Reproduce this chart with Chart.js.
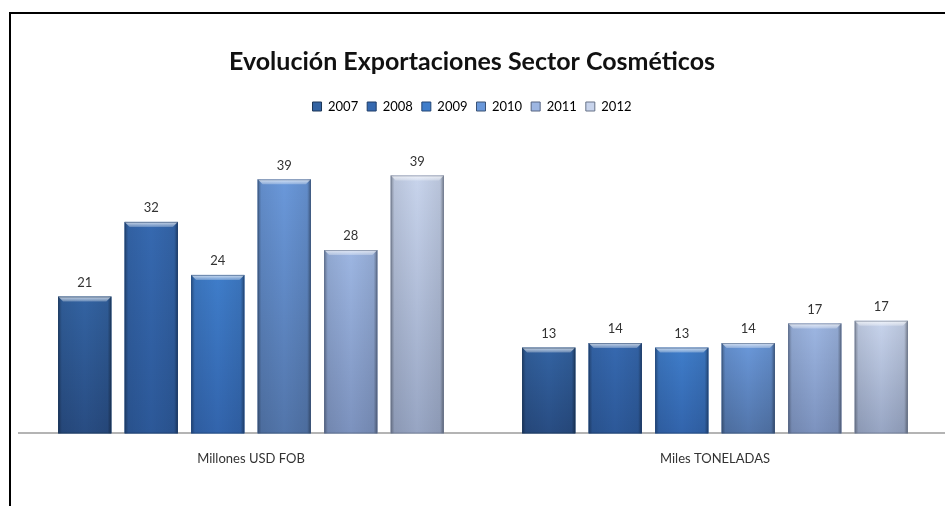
<!DOCTYPE html>
<html>
<head>
<meta charset="utf-8">
<script src="https://cdn.jsdelivr.net/npm/chart.js@4/dist/chart.umd.min.js"></script>
<style>
  html, body { margin: 0; padding: 0; background: #fff; overflow: hidden; }
  #wrap { position: relative; width: 947px; height: 506px; }
  #frame { position: absolute; left: 9px; top: 12px; right: -10px; bottom: -10px;
           border-left: 2px solid #000; border-top: 2px solid #000; pointer-events: none; }
  canvas { position: absolute; left: 0; top: 0; }
</style>
</head>
<body>
<div id="wrap">
  <canvas id="c" width="947" height="506"></canvas>
  <div id="frame"></div>
</div>
<script>
// Categories and series
const categories = ['Millones USD FOB', 'Miles TONELADAS'];
const years = ['2007', '2008', '2009', '2010', '2011', '2012'];
const v2007 = [20.9, 13.1];
const v2008 = [32.3, 13.8];
const v2009 = [24.2, 13.1];
const v2010 = [38.8, 13.8];
const v2011 = [28.0, 16.8];
const v2012 = [39.4, 17.2];
const seriesValues = [v2007, v2008, v2009, v2010, v2011, v2012];

// Bar shading: lighter at the top, darker towards the base
const topColors    = ['#3363a2', '#3669b0', '#3f7dca', '#6a98da', '#9db6e2', '#c8d4ec'];
const bottomColors = ['#284c82', '#2c5898', '#3264ac', '#5275aa', '#7c92be', '#97a5c3'];
const edgeColors   = ['#1c3658', '#1f3d68', '#234676', '#3a5275', '#566582', '#687388'];

// Title and legend sit centred on the page rather than on the plot area
const centerHeader = {
  id: 'centerHeader',
  afterLayout(chart) {
    const shift = -11;
    [chart.titleBlock, chart.legend].forEach(box => {
      if (!box) return;
      box.left += shift;
      box.right += shift;
      if (box.legendHitBoxes) box.legendHitBoxes.forEach(hb => { hb.left += shift; });
    });
  }
};

// Paints each bar with a vertical gradient, dark side edges and a bevelled top
const bevelBars = {
  id: 'bevelBars',
  afterDatasetsDraw(chart) {
    const ctx = chart.ctx;
    chart.data.datasets.forEach((ds, di) => {
      const meta = chart.getDatasetMeta(di);
      meta.data.forEach(bar => {
        const w = bar.width, l = bar.x - w / 2, r = bar.x + w / 2;
        const t = bar.y, b = bar.base;
        ctx.save();
        const g = ctx.createLinearGradient(0, t, 0, b);
        g.addColorStop(0, topColors[di]);
        g.addColorStop(1, bottomColors[di]);
        ctx.fillStyle = g;
        ctx.fillRect(l, t, w, b - t);
        // darker sides
        const h = ctx.createLinearGradient(l, 0, r, 0);
        h.addColorStop(0, 'rgba(0,0,0,0.35)');
        h.addColorStop(0.07, 'rgba(0,0,0,0.08)');
        h.addColorStop(0.5, 'rgba(0,0,0,0)');
        h.addColorStop(0.93, 'rgba(0,0,0,0.08)');
        h.addColorStop(1, 'rgba(0,0,0,0.4)');
        ctx.fillStyle = h;
        ctx.fillRect(l, t, w, b - t);
        // bevelled top highlight
        const bev = 5;
        ctx.beginPath();
        ctx.moveTo(l, t);
        ctx.lineTo(r, t);
        ctx.lineTo(r - bev, t + bev);
        ctx.lineTo(l + bev, t + bev);
        ctx.closePath();
        const tg = ctx.createLinearGradient(0, t, 0, t + bev);
        tg.addColorStop(0, 'rgba(255,255,255,0.75)');
        tg.addColorStop(1, 'rgba(255,255,255,0.25)');
        ctx.fillStyle = tg;
        ctx.fill();
        // outline
        ctx.strokeStyle = edgeColors[di];
        ctx.globalAlpha = 0.55;
        ctx.lineWidth = 1;
        ctx.strokeRect(l + 0.5, t + 0.5, w - 1, b - t - 1);
        ctx.restore();
      });
    });
  }
};

// Value labels above each bar
const valueLabels = {
  id: 'valueLabels',
  afterDatasetsDraw(chart) {
    const ctx = chart.ctx;
    ctx.save();
    ctx.font = '13px Lato, "Open Sans", sans-serif';
    ctx.fillStyle = '#333';
    ctx.textAlign = 'center';
    ctx.textBaseline = 'middle';
    chart.data.datasets.forEach((ds, di) => {
      chart.getDatasetMeta(di).data.forEach((bar, i) => {
        ctx.fillText(String(Math.round(ds.data[i])), bar.x, bar.y - 14);
      });
    });
    ctx.restore();
  }
};

new Chart(document.getElementById('c'), {
  type: 'bar',
  data: {
    labels: categories,
    datasets: years.map((y, i) => ({
      label: y,
      data: seriesValues[i],
      backgroundColor: topColors[i],
      borderWidth: 0,
      categoryPercentage: 0.86,
      barPercentage: 0.8
    }))
  },
  options: {
    responsive: false,
    animation: false,
    layout: { padding: { left: 19, right: 0, top: 0, bottom: 21 } },
    plugins: {
      title: {
        display: true,
        text: 'Evolución Exportaciones Sector Cosméticos',
        color: '#111',
        font: { family: 'Lato, "Open Sans", sans-serif', size: 25, weight: 'bold' },
        padding: { top: 47, bottom: 14 }
      },
      legend: {
        display: true,
        position: 'top',
        labels: {
          boxWidth: 9,
          boxHeight: 9,
          padding: 9,
          color: '#333',
          font: { family: 'Lato, "Open Sans", sans-serif', size: 13 },
          generateLabels(chart) {
            return years.map((y, i) => ({
              text: y,
              fillStyle: topColors[i],
              strokeStyle: edgeColors[i],
              lineWidth: 1,
              datasetIndex: i
            }));
          }
        }
      },
      tooltip: { enabled: false }
    },
    scales: {
      x: {
        grid: { display: false, drawTicks: false },
        border: { display: true, color: '#b4b4b4', width: 2 },
        ticks: {
          color: '#333',
          padding: 18,
          font: { family: 'Lato, "Open Sans", sans-serif', size: 13 }
        }
      },
      y: {
        display: false,
        min: 0,
        max: 47.4
      }
    }
  },
  plugins: [centerHeader, bevelBars, valueLabels]
});
</script>
</body>
</html>
